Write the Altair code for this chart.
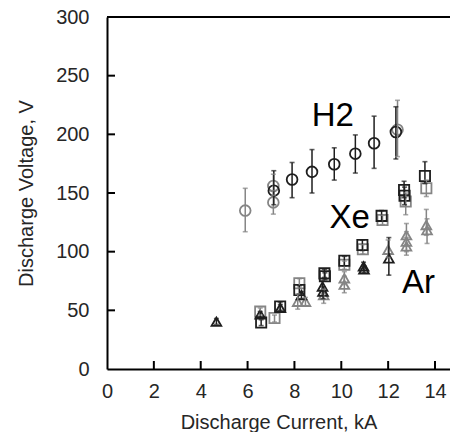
import altair as alt
import pandas as pd

# ---------------- data ----------------
h2_x = [5.9, 7.1, 7.1, 7.12, 7.9, 8.75, 9.7, 10.6, 11.4, 12.33, 12.4]
h2_y = [135, 156, 142, 152, 161.5, 168, 174.5, 183.5, 192.4, 202, 204]
h2_lo = [117, 148, 132, 140, 146, 150, 161, 167, 171, 179, 181]
h2_hi = [154, 166, 152, 169, 176, 187, 188.5, 199.5, 215.5, 223.5, 229]
h2_shade = ["light", "light", "light", "dark", "dark", "dark", "dark", "dark", "dark", "dark", "light"]

xe_x = [6.54, 6.58, 7.15, 7.39, 8.21, 8.21, 9.28, 9.3, 10.13, 10.13, 10.9, 10.92,
        11.72, 11.76, 12.68, 12.7, 12.75, 13.57, 13.63]
xe_y = [48.9, 39.7, 43.4, 53.3, 73, 67.4, 81.5, 79, 92.3, 88.9, 105.6, 102,
        130.5, 127, 152.6, 147.6, 142.7, 164.5, 154]
xe_lo = [46, 37, 40, 50, 69, 64, 78, 76, 88, 85, 101, 98,
         126, 123, 146, 140, 131.5, 158, 147]
xe_hi = [52, 42, 46, 57, 77, 71, 85, 82, 96, 92, 110, 106,
         135, 131, 160, 155, 150, 176.7, 161]
xe_shade = ["light", "dark", "light", "dark", "light", "dark", "dark", "dark", "dark", "light",
            "dark", "light", "dark", "light", "dark", "dark", "light", "dark", "light"]

ar_x = [4.67, 6.54, 7.4, 8.14, 8.47, 8.3, 9.2, 9.22, 9.25, 10.13, 10.13, 10.95, 10.97,
        12.0, 12.03, 12.78, 12.78, 12.78, 13.63, 13.66]
ar_y = [40.3, 46.5, 52, 57.3, 57.3, 63, 70.3, 66, 63, 77.3, 71.8, 87.5, 85,
        101.6, 94.3, 114, 108.5, 104.5, 122.7, 118.4]
ar_lo = [38, 44, 49, 51, 54, 60, 66, 60, 56, 72, 65, 84, 82,
         95, 80, 105, 100, 97, 114, 107]
ar_hi = [43, 49, 55, 64, 61, 66, 75, 70, 68, 83, 79, 91, 88,
         110, 112, 124, 117, 112, 136, 128]
ar_shade = ["dark", "dark", "dark", "light", "light", "dark", "dark", "dark", "light", "light",
            "light", "dark", "dark", "light", "dark", "light", "light", "light", "light", "light"]

label_text = ["H2", "Xe", "Ar"]
label_x = [9.64, 10.36, 13.3]
label_y = [207, 120, 65]

x_ticks = [2, 4, 6, 8, 10, 12, 14]
y_ticks = [50, 100, 150, 200, 250]

# ---------------- build tables ----------------
def frame(x, y, lo, hi, shade, gas):
    return pd.DataFrame({"x": x, "y": y, "lo": lo, "hi": hi, "shade": shade, "gas": gas})

df = pd.concat([
    frame(h2_x, h2_y, h2_lo, h2_hi, h2_shade, "H2"),
    frame(xe_x, xe_y, xe_lo, xe_hi, xe_shade, "Xe"),
    frame(ar_x, ar_y, ar_lo, ar_hi, ar_shade, "Ar"),
], ignore_index=True)
df["order"] = (df["shade"] == "dark").astype(int)
df = df.sort_values("order")

labels = pd.DataFrame({"t": label_text, "x": label_x, "y": label_y})
xt = pd.DataFrame({"t": x_ticks})
yt = pd.DataFrame({"t": y_ticks})

FONT = "Liberation Sans"
TXT = "#262626"

xscale = alt.Scale(domain=[0, 14.64], nice=False, zero=False)
yscale = alt.Scale(domain=[0, 300], nice=False)

xaxis = alt.Axis(values=[0, 2, 4, 6, 8, 10, 12, 14], format="d", title="Discharge Current, kA",
                 labelPadding=12, titlePadding=11, labelFlush=False)
yaxis = alt.Axis(values=[0, 50, 100, 150, 200, 250, 300], title="Discharge Voltage, V",
                 labelPadding=18, titlePadding=19)

color = alt.Color("shade:N", scale=alt.Scale(domain=["dark", "light"], range=["#1e1e1e", "#858585"]),
                  legend=None)
X = alt.X("x:Q", scale=xscale, axis=xaxis)
Y = alt.Y("y:Q", scale=yscale, axis=yaxis)

base = alt.Chart(df)

shape = alt.Shape("gas:N", scale=alt.Scale(domain=["H2", "Xe", "Ar"],
                                           range=["circle", "square", "triangle-up"]), legend=None)
size = alt.Size("gas:N", scale=alt.Scale(domain=["H2", "Xe", "Ar"], range=[115, 95, 90]), legend=None)
pts = base.mark_point(filled=False, strokeWidth=1.8, opacity=1).encode(
    x=X, y=Y, color=color, shape=shape, size=size, order="order:Q")

bars = base.mark_rule(strokeWidth=1.5).encode(
    x=X, y=alt.Y("lo:Q", scale=yscale, axis=yaxis), y2="hi:Q", color=color)
cap_lo = base.mark_tick(orient="horizontal", size=5, thickness=1.6).encode(
    x=X, y=alt.Y("lo:Q", scale=yscale, axis=yaxis), color=color)
cap_hi = base.mark_tick(orient="horizontal", size=5, thickness=1.6).encode(
    x=X, y=alt.Y("hi:Q", scale=yscale, axis=yaxis), color=color)

txt = alt.Chart(labels).mark_text(fontSize=33, font=FONT, color="black", align="center",
                                  baseline="alphabetic").encode(
    x=alt.X("x:Q", scale=xscale, axis=xaxis),
    y=alt.Y("y:Q", scale=yscale, axis=yaxis), text="t:N")

xtick_marks = alt.Chart(xt).mark_rule(color="black", strokeWidth=2).encode(
    x=alt.X("t:Q", scale=xscale, axis=xaxis), y=alt.value(352), y2=alt.value(344))
ytick_marks = alt.Chart(yt).mark_rule(color="black", strokeWidth=2).encode(
    y=alt.Y("t:Q", scale=yscale, axis=yaxis), x=alt.value(0), x2=alt.value(8))
top_line = alt.Chart(labels).mark_rule(color="black", strokeWidth=2).encode(
    x=alt.value(0), x2=alt.value(343), y=alt.value(0))

chart = alt.layer(pts, bars, cap_lo, cap_hi, txt, xtick_marks, ytick_marks, top_line).properties(
    width=343, height=352,
    autosize=alt.AutoSizeParams(type="none"),
    padding={"left": 107, "top": 17, "right": 0, "bottom": 63},
    background="white",
).configure_view(strokeWidth=0).configure_axis(
    ticks=False, grid=False, domainColor="black", domainWidth=2,
    labelFontSize=20, labelFont=FONT, labelColor=TXT,
    titleFontSize=20, titleFont=FONT, titleColor=TXT, titleFontWeight="normal",
)

chart.save("out.html", embed_options={"renderer": "svg", "actions": False})
